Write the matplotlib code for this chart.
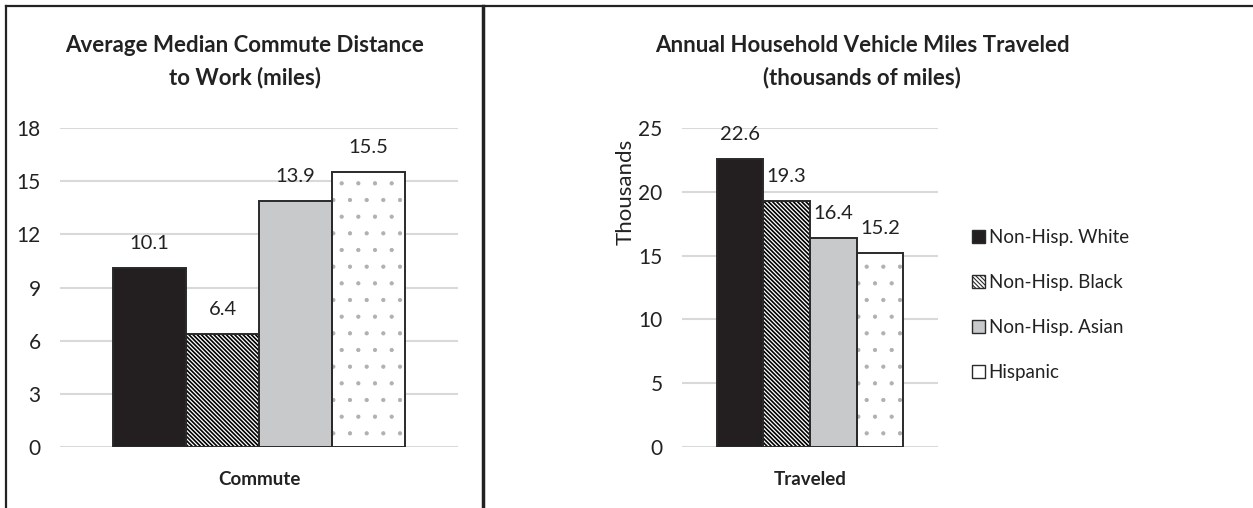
import matplotlib.pyplot as plt
import numpy as np
from matplotlib.lines import Line2D
from matplotlib.patches import Patch

plt.rcParams['font.family'] = ['Lato', 'DejaVu Sans']
plt.rcParams['hatch.linewidth'] = 1.2

groups = ['Non-Hisp. White', 'Non-Hisp. Black', 'Non-Hisp. Asian', 'Hispanic']
commute = [10.1, 6.4, 13.9, 15.5]
vmt = [22.6, 19.3, 16.4, 15.2]
commute_ticks = [0, 3, 6, 9, 12, 15, 18]
vmt_ticks = [0, 5, 10, 15, 20, 25]

BS = chr(92)  # backslash
fills = ['#231f20', 'white', '#c8c9cb', 'white']
hatches = [None, BS * 8, None, '.']
legend_hatches = [None, BS * 8, None, None]
hatch_cols = ['#231f20', 'black', '#c8c9cb', '#b0b0b0']
hatch_lw = [1.0, 1.2, 1.0, 0.6]
edge = '#2a2a2a'
txt = '#222222'

W, H = 1253, 508
fig = plt.figure(figsize=(W / 100, H / 100), dpi=100)


def px_axes(x0, y0, x1, y1):
    return fig.add_axes([x0 / W, 1 - y1 / H, (x1 - x0) / W, (y1 - y0) / H])


def draw_panel(ax, vals, ticks, cat, margin):
    x = np.arange(len(vals))
    for i, v in enumerate(vals):
        # fill + hatch, then outline on top
        plt.rcParams['hatch.linewidth'] = hatch_lw[i]
        ax.bar(x[i], v, width=1.0, color=fills[i], edgecolor=hatch_cols[i],
               hatch=hatches[i], linewidth=0, zorder=2)
        ax.bar(x[i], v, width=1.0, fill=False, edgecolor=edge, linewidth=1.4, zorder=3)
        ax.text(x[i], v + ticks[-1] * 0.05, f'{v}', ha='center', va='bottom',
                fontsize=14.5, color=txt)
    ax.set_ylim(0, ticks[-1])
    ax.set_xlim(-0.5 - margin, len(vals) - 0.5 + margin)
    ax.set_yticks(ticks)
    ax.set_xticks([])
    ax.grid(axis='y', color='#d9d9d9', linewidth=1.5, zorder=0)
    ax.set_axisbelow(True)
    for s in ax.spines.values():
        s.set_visible(False)
    ax.tick_params(axis='y', length=0, labelsize=15, labelcolor=txt, pad=14)
    ax.text(0.5, -0.075, cat, transform=ax.transAxes, ha='center', va='top',
            fontsize=13.5, fontweight='bold', color=txt)


ax1 = px_axes(60, 128, 458, 447)
draw_panel(ax1, commute, commute_ticks, 'Commute', 0.73)
fig.text(245 / W, 1 - 62 / H, 'Average Median Commute Distance\nto Work (miles)',
         ha='center', va='center', fontsize=16, fontweight='bold', color=txt,
         linespacing=1.6)

ax2 = px_axes(682, 128, 938, 447)
draw_panel(ax2, vmt, vmt_ticks, 'Traveled', 0.75)
ax2.set_ylabel('Thousands', fontsize=16, color=txt)
ax2.yaxis.set_label_coords(-0.18, 0.8)
fig.text(862 / W, 1 - 62 / H, 'Annual Household Vehicle Miles Traveled\n(thousands of miles)',
         ha='center', va='center', fontsize=16, fontweight='bold', color=txt,
         linespacing=1.6)

plt.rcParams['hatch.linewidth'] = 0.8
handles = [Patch(facecolor=fills[i], edgecolor=edge, hatch=legend_hatches[i], linewidth=1)
           for i in range(len(groups))]
fig.legend(handles, groups, loc='upper left', bbox_to_anchor=(955 / W, 1 - 212 / H),
           frameon=False, fontsize=13.5, handlelength=0.7, handleheight=0.7,
           handletextpad=0.2, labelspacing=1.5, labelcolor=txt)

# panel borders
fig.add_artist(Line2D([6 / W, 6 / W], [0, 1 - 6 / H], color=txt, linewidth=1.6))
fig.add_artist(Line2D([6 / W, 1], [1 - 6 / H, 1 - 6 / H], color=txt, linewidth=1.6))
fig.add_artist(Line2D([483 / W, 483 / W], [0, 1 - 6 / H], color=txt, linewidth=2.5))

fig.savefig('out.png', dpi=100)
